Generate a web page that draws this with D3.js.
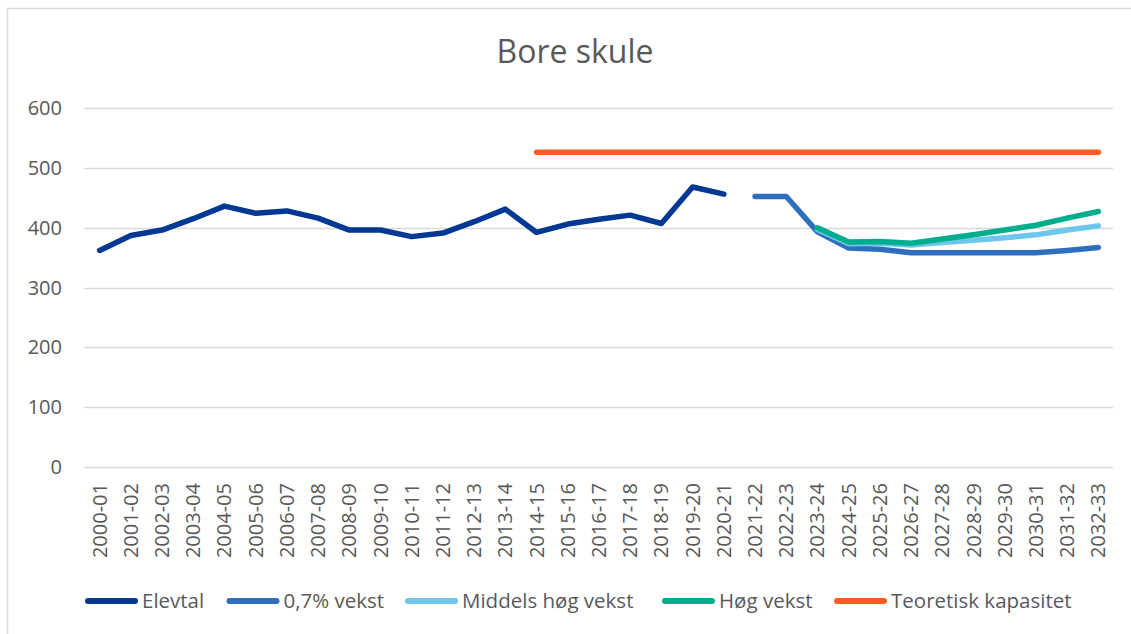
<!DOCTYPE html>
<html><head><meta charset="utf-8">
<script src="https://cdn.jsdelivr.net/npm/d3@7"></script>
<style>body{margin:0;background:#fff;}svg{display:block;font-family:"Open Sans",sans-serif;}</style>
</head><body><svg id="c" width="1131" height="634"></svg>
<script>
const categories = ["2000-01","2001-02","2002-03","2003-04","2004-05","2005-06","2006-07","2007-08","2008-09","2009-10","2010-11","2011-12","2012-13","2013-14","2014-15","2015-16","2016-17","2017-18","2018-19","2019-20","2020-21","2021-22","2022-23","2023-24","2024-25","2025-26","2026-27","2027-28","2028-29","2029-30","2030-31","2031-32","2032-33"];
const elevtal = [362,387,396,415,436,424,428,416,396,396,385,391,410,431,392,406,414,421,407,468,456,null,null,null,null,null,null,null,null,null,null,null,null];
const vekst07 = [null,null,null,null,null,null,null,null,null,null,null,null,null,null,null,null,null,null,null,null,null,452,452,393,366,364,358,358,358,358,358,362,367];
const middels = [null,null,null,null,null,null,null,null,null,null,null,null,null,null,null,null,null,null,null,null,null,null,null,397,373,374,371,375,379,383,388,396,403];
const hog = [null,null,null,null,null,null,null,null,null,null,null,null,null,null,null,null,null,null,null,null,null,null,null,400,376,377,374,381,388,396,404,416,427];
const kapasitet = [null,null,null,null,null,null,null,null,null,null,null,null,null,null,526,526,526,526,526,526,526,526,526,526,526,526,526,526,526,526,526,526,526];
const yTicks = [0,100,200,300,400,500,600];
const seriesNames = ["Elevtal","0,7% vekst","Middels høg vekst","Høg vekst","Teoretisk kapasitet"];
const seriesColors = ["#003893","#2E6EBF","#6EC6EA","#00AE8E","#FF5A1F"];
const seriesData = [elevtal, vekst07, middels, hog, kapasitet];

const svg = d3.select("#c");
svg.append("rect").attr("x",7.5).attr("y",8.5).attr("width",1140).attr("height",640)
  .attr("fill","#fff").attr("stroke","#D9D9D9").attr("stroke-width",1.5);

const x = d3.scaleBand().domain(categories).range([84,1114]);
const y = d3.scaleLinear().domain([0,600]).range([467,108]);

svg.append("text").attr("x",575).attr("y",63).attr("text-anchor","middle")
  .attr("font-size",32).attr("fill","#595959").text("Bore skule");

// gridlines
svg.append("g").selectAll("line").data(yTicks).join("line")
  .attr("x1",84).attr("x2",1113).attr("y1",d=>Math.round(y(d))+0.5).attr("y2",d=>Math.round(y(d))+0.5)
  .attr("stroke","#D9D9D9").attr("stroke-width",1.3);

// y labels
svg.append("g").selectAll("text").data(yTicks).join("text")
  .attr("x",62).attr("y",d=>y(d)).attr("dy","0.35em").attr("text-anchor","end")
  .attr("font-size",20).attr("fill","#595959").text(d=>d);

// x labels
svg.append("g").selectAll("text").data(categories).join("text")
  .attr("transform",d=>`translate(${x(d)+x.bandwidth()/2},483) rotate(-90)`)
  .attr("dy","0.35em").attr("text-anchor","end")
  .attr("font-size",20).attr("fill","#595959").text(d=>d);

const line = d3.line().defined(d=>d!=null)
  .x((d,i)=>x(categories[i])+x.bandwidth()/2).y(d=>y(d));

seriesData.forEach((s,k)=>{
  svg.append("path").datum(s).attr("d",line).attr("fill","none")
    .attr("stroke",seriesColors[k]).attr("stroke-width",5.5)
    .attr("stroke-linecap","round").attr("stroke-linejoin","round");
});

// legend
const legX = [85,226.5,405,662,834];
const lg = svg.append("g");
seriesNames.forEach((n,k)=>{
  lg.append("line").attr("x1",legX[k]+3).attr("x2",legX[k]+50).attr("y1",601).attr("y2",601)
    .attr("stroke",seriesColors[k]).attr("stroke-width",6).attr("stroke-linecap","round");
  lg.append("text").attr("x",legX[k]+57).attr("y",601).attr("dy","0.35em")
    .attr("font-size",20.5).attr("fill","#595959").text(n);
});
</script></body></html>
